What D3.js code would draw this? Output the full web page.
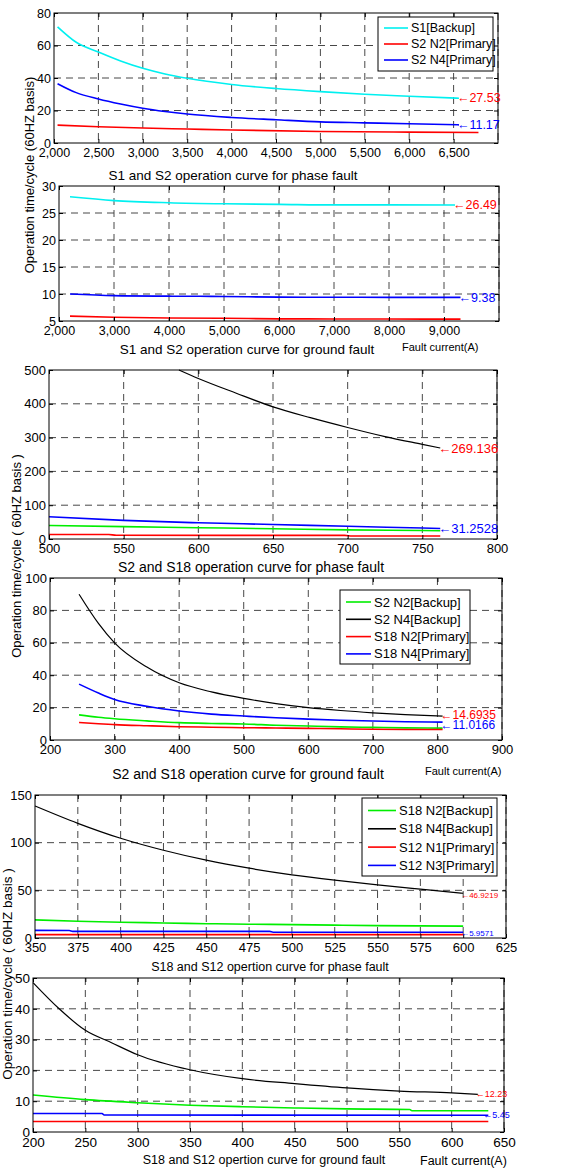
<!DOCTYPE html>
<html>
<head>
<meta charset="utf-8">
<script src="https://cdnjs.cloudflare.com/ajax/libs/d3/7.8.5/d3.min.js"></script>
<style>
body {margin: 0; background: #fff;}
svg {display: block; font-family: "Liberation Sans", Arial, sans-serif;}
.grid {stroke: #333; stroke-width: 0.9; stroke-dasharray: 7,5;}
</style>
</head>
<body>
<div id="vis"></div>
<script>
// ---- data ----

// panel 1: S1 and S2, phase fault
const P1_X_TICKS = [2000, 2500, 3000, 3500, 4000, 4500, 5000, 5500, 6000, 6500];
const P1_Y_TICKS = [0, 20, 40, 60, 80];
const P1_S1_X = [2040, 2250, 2500, 2750, 3000, 3250, 3500, 4000, 4500, 5000, 5500, 6000, 6560];
const P1_S1_Y = [71.5, 62, 56, 50.5, 46, 42.5, 39.8, 36, 33.5, 31.6, 30, 28.8, 27.53];
const P1_N4_X = [2040, 2250, 2500, 2750, 3000, 3250, 3500, 4000, 4500, 5000, 5500, 6000, 6560];
const P1_N4_Y = [36.5, 31, 27.1, 24, 21.4, 19.4, 17.8, 15.7, 14.3, 13, 12.4, 11.8, 11.17];
const P1_N2_X = [2040, 2500, 3000, 3500, 4000, 5000, 6000, 6780];
const P1_N2_Y = [11, 10, 9.2, 8.6, 8, 7.1, 6.7, 6.5];
const P1_LEGEND = ["S1[Backup]", "S2 N2[Primary]", "S2 N4[Primary]"];

// panel 2: S1 and S2, ground fault
const P2_X_TICKS = [2000, 3000, 4000, 5000, 6000, 7000, 8000, 9000];
const P2_Y_TICKS = [5, 10, 15, 20, 25, 30];
const P2_S1_X = [2200, 3000, 4000, 5000, 6000, 7000, 8000, 9200];
const P2_S1_Y = [28, 27.3, 26.9, 26.7, 26.6, 26.5, 26.5, 26.49];
const P2_N4_X = [2200, 3000, 4000, 5000, 6000, 7000, 8000, 9300];
const P2_N4_Y = [10, 9.7, 9.6, 9.55, 9.42, 9.4, 9.38, 9.38];
const P2_N2_X = [2200, 3000, 4000, 5000, 6000, 7000, 8000, 9300];
const P2_N2_Y = [5.9, 5.7, 5.55, 5.5, 5.4, 5.38, 5.36, 5.35];

// panel 3: S2 and S18, phase fault
const P3_X_TICKS = [500, 550, 600, 650, 700, 750, 800];
const P3_Y_TICKS = [0, 100, 200, 300, 400, 500];
const P3_N4B_X = [587, 600, 625, 650, 675, 700, 725, 750, 762];
const P3_N4B_Y = [500, 475, 432, 391, 359, 330, 303, 280, 269.136];
const P3_N4P_X = [500, 550, 600, 650, 700, 750, 762];
const P3_N4P_Y = [66, 55, 48, 43, 37.5, 32.5, 31.2528];
const P3_N2B_X = [500, 550, 600, 650, 700, 750, 762];
const P3_N2B_Y = [40, 36.5, 33.5, 30.5, 27, 25, 24.5];
const P3_N2P_X = [500, 540, 545, 698, 703, 762];
const P3_N2P_Y = [13.5, 13.2, 11, 10.6, 9, 8.8];

// panel 4: S2 and S18, ground fault
const P4_X_TICKS = [200, 300, 400, 500, 600, 700, 800, 900];
const P4_Y_TICKS = [0, 20, 40, 60, 80, 100];
const P4_X = [245, 275, 300, 350, 400, 450, 500, 550, 600, 650, 700, 750, 808];
const P4_S2_N2 = [15.5, 14, 13.1, 11.8, 10.7, 10.2, 9.9, 9.1, 8.6, 8.1, 7.8, 7.5, 7.3];
const P4_S2_N4 = [90, 72, 60, 45, 35.3, 29.7, 25.7, 22.5, 20, 18.2, 16.8, 15.7, 14.6935];
const P4_S18_N2 = [10.8, 10, 9.5, 8.8, 8.2, 7.9, 7.6, 7.4, 7.2, 6.9, 6.6, 6.5, 6.5];
const P4_S18_N4 = [34.5, 29, 25, 20.8, 17.9, 16, 14.8, 13.7, 12.9, 12.2, 11.7, 11.3, 11.0166];
const P4_LEGEND = ["S2 N2[Backup]", "S2 N4[Backup]", "S18 N2[Primary]", "S18 N4[Primary]"];

// panel 5: S18 and S12, phase fault
const P5_X_TICKS = [350, 375, 400, 425, 450, 475, 500, 525, 550, 575, 600, 625];
const P5_Y_TICKS = [0, 50, 100, 150];
const P5_X = [350, 375, 400, 425, 450, 475, 500, 525, 550, 575, 600];
const P5_S18_N2 = [19, 17.5, 16.5, 15.8, 15, 14.5, 14, 13.5, 13, 12.7, 12.5];
const P5_S18_N4 = [138.5, 120.3, 104.6, 92, 81.6, 73.2, 66.3, 60.7, 55.8, 51.3, 46.9219];
const P5_N1_X = [350, 600];
const P5_S12_N1 = [3.5, 3.5];
const P5_N3_X = [350, 370, 372, 487, 489, 600];
const P5_S12_N3 = [8, 7.8, 7, 6.9, 6, 5.9571];
const P5_LEGEND = ["S18 N2[Backup]", "S18 N4[Backup]", "S12 N1[Primary]", "S12 N3[Primary]"];

// panel 6: S18 and S12, ground fault
const P6_X_TICKS = [200, 250, 300, 350, 400, 450, 500, 550, 600, 650];
const P6_Y_TICKS = [0, 10, 20, 30, 40, 50];
const P6_N4_X = [200, 225, 250, 275, 300, 350, 400, 450, 500, 550, 600, 625];
const P6_S18_N4 = [48.5, 40, 33, 29, 25.1, 20.2, 17.3, 15.7, 14.3, 13.3, 12.7, 12.23];
const P6_N2_X = [200, 250, 300, 350, 400, 450, 500, 560, 562, 635];
const P6_S18_N2 = [12, 10.5, 9.5, 8.7, 8.2, 7.8, 7.5, 7.3, 6.9, 6.9];
const P6_N3_X = [200, 266, 268, 635];
const P6_S12_N3 = [6, 6, 5.5, 5.45];
const P6_N1_X = [200, 635];
const P6_S12_N1 = [3.4, 3.4];

// ---- drawing ----
const FRAME_WIDTH = 570;
const FRAME_HEIGHT = 1169;
const CYAN = "#00f0f0", RED = "#ff0000", BLUE = "#0000ff", GREEN = "#00ee00", BLACK = "#000";

const SVG = d3.select("#vis")
    .append("svg")
        .attr("width", FRAME_WIDTH)
        .attr("height", FRAME_HEIGHT);

const zip = (xs, ys) => xs.map((x, i) => [x, ys[i]]);

function drawPanel(cfg) {
    const X_SCALE = d3.scaleLinear().domain(cfg.xDomain).range([cfg.left, cfg.right]);
    const Y_SCALE = d3.scaleLinear().domain(cfg.yDomain).range([cfg.bottom, cfg.top]);
    const g = SVG.append("g");

    // dashed grid
    g.selectAll(".vgrid")
        .data(cfg.xTicks.filter(t => t > cfg.xDomain[0] && t < cfg.xDomain[1]).concat([cfg.xDomain[1]]))
        .enter()
        .append("line")
            .attr("class", "grid")
            .attr("x1", d => X_SCALE(d)).attr("x2", d => X_SCALE(d))
            .attr("y1", cfg.top).attr("y2", cfg.bottom);
    g.selectAll(".hgrid")
        .data(cfg.yTicks.filter(t => t > cfg.yDomain[0] && t < cfg.yDomain[1]))
        .enter()
        .append("line")
            .attr("class", "grid")
            .attr("x1", cfg.left).attr("x2", cfg.right)
            .attr("y1", d => Y_SCALE(d)).attr("y2", d => Y_SCALE(d));

    // curves
    const line = d3.line()
        .x(d => X_SCALE(d[0]))
        .y(d => Y_SCALE(d[1]))
        .curve(d3.curveMonotoneX);
    cfg.series.forEach(s => {
        g.append("path")
            .attr("d", line(zip(s.x, s.y)))
            .attr("fill", "none")
            .attr("stroke", s.color)
            .attr("stroke-width", s.color === BLACK ? 1.2 : 1.6);
    });

    // axes with inward ticks
    const fmt = cfg.xFormat || (d => d);
    g.append("g")
        .attr("transform", "translate(0," + cfg.bottom + ")")
        .call(d3.axisBottom(X_SCALE).tickValues(cfg.xTicks).tickFormat(fmt)
            .tickSizeInner(-4).tickSizeOuter(0).tickPadding(5))
        .attr("font-size", cfg.tickFont + "px")
        .attr("font-family", null);
    g.append("g")
        .attr("transform", "translate(" + cfg.left + ",0)")
        .call(d3.axisLeft(Y_SCALE).tickValues(cfg.yTicks)
            .tickSizeInner(-4).tickSizeOuter(0).tickPadding(3))
        .attr("font-size", cfg.tickFont + "px")
        .attr("font-family", null);
    g.append("g")
        .attr("transform", "translate(0," + cfg.top + ")")
        .call(d3.axisTop(X_SCALE).tickValues(cfg.xTicks).tickFormat("").tickSizeInner(-4).tickSizeOuter(0));
    g.append("g")
        .attr("transform", "translate(" + cfg.right + ",0)")
        .call(d3.axisRight(Y_SCALE).tickValues(cfg.yTicks).tickFormat("").tickSizeInner(-4).tickSizeOuter(0));
    g.selectAll(".domain").remove();
    g.selectAll(".tick text").attr("fill", "#000");

    g.append("rect")
        .attr("x", cfg.left).attr("y", cfg.top)
        .attr("width", cfg.right - cfg.left).attr("height", cfg.bottom - cfg.top)
        .attr("fill", "none").attr("stroke", "#000").attr("stroke-width", 1);

    // end value notes
    cfg.notes.forEach(n => {
        g.append("text")
            .attr("x", X_SCALE(n.x) + (n.dx || -2))
            .attr("y", Y_SCALE(n.y) + (n.dy || 0))
            .attr("dominant-baseline", "central")
            .attr("font-size", n.size + "px")
            .attr("fill", n.color)
            .text("\u2190" + n.label);
    });

    // legend
    if (cfg.legend) {
        const L = cfg.legend;
        g.append("rect")
            .attr("x", L.x).attr("y", L.y).attr("width", L.w).attr("height", L.h)
            .attr("fill", "#fff").attr("stroke", "#000").attr("stroke-width", 1);
        L.labels.forEach((lab, i) => {
            const yy = L.y + L.pad + i * L.step;
            g.append("line")
                .attr("x1", L.x + 6).attr("x2", L.x + 6 + L.line)
                .attr("y1", yy).attr("y2", yy)
                .attr("stroke", L.colors[i]).attr("stroke-width", 1.6);
            g.append("text")
                .attr("x", L.x + 9 + L.line).attr("y", yy)
                .attr("dominant-baseline", "central")
                .attr("font-size", L.font + "px")
                .text(lab);
        });
    }
}

// panel 1
drawPanel({
    left: 54, right: 498, top: 13, bottom: 143,
    xDomain: [2000, 7000], yDomain: [0, 80],
    xTicks: P1_X_TICKS, yTicks: P1_Y_TICKS, xFormat: d3.format(","), tickFont: 12.5,
    series: [
        {x: P1_S1_X, y: P1_S1_Y, color: CYAN},
        {x: P1_N2_X, y: P1_N2_Y, color: RED},
        {x: P1_N4_X, y: P1_N4_Y, color: BLUE}
    ],
    notes: [
        {x: 6560, y: 27.53, label: "27.53", color: RED, size: 12.5},
        {x: 6560, y: 11.17, label: "11.17", color: BLUE, size: 12.5}
    ],
    legend: {x: 378, y: 17, w: 115, h: 54, pad: 11, step: 16, line: 24, font: 12.5,
             labels: P1_LEGEND, colors: [CYAN, RED, BLUE]}
});

// panel 2
drawPanel({
    left: 59, right: 499, top: 186, bottom: 321,
    xDomain: [2000, 10000], yDomain: [5, 30],
    xTicks: P2_X_TICKS, yTicks: P2_Y_TICKS, xFormat: d3.format(","), tickFont: 12.5,
    series: [
        {x: P2_S1_X, y: P2_S1_Y, color: CYAN},
        {x: P2_N4_X, y: P2_N4_Y, color: BLUE},
        {x: P2_N2_X, y: P2_N2_Y, color: RED}
    ],
    notes: [
        {x: 9200, y: 26.49, label: "26.49", color: RED, size: 12.5},
        {x: 9300, y: 9.38, label: "9.38", color: BLUE, size: 12.5, dy: 1}
    ]
});

// panel 3
drawPanel({
    left: 49, right: 497, top: 370, bottom: 539,
    xDomain: [500, 800], yDomain: [0, 500],
    xTicks: P3_X_TICKS, yTicks: P3_Y_TICKS, tickFont: 13,
    series: [
        {x: P3_N4B_X, y: P3_N4B_Y, color: BLACK},
        {x: P3_N4P_X, y: P3_N4P_Y, color: BLUE},
        {x: P3_N2B_X, y: P3_N2B_Y, color: GREEN},
        {x: P3_N2P_X, y: P3_N2P_Y, color: RED}
    ],
    notes: [
        {x: 762, y: 269.136, label: "269.136", color: RED, size: 13},
        {x: 762, y: 31.2528, label: "31.2528", color: BLUE, size: 13}
    ]
});

// panel 4
drawPanel({
    left: 50, right: 502, top: 578, bottom: 740,
    xDomain: [200, 900], yDomain: [0, 100],
    xTicks: P4_X_TICKS, yTicks: P4_Y_TICKS, tickFont: 13,
    series: [
        {x: P4_X, y: P4_S2_N2, color: GREEN},
        {x: P4_X, y: P4_S2_N4, color: BLACK},
        {x: P4_X, y: P4_S18_N2, color: RED},
        {x: P4_X, y: P4_S18_N4, color: BLUE}
    ],
    notes: [
        {x: 808, y: 14.6935, label: "14.6935", color: RED, size: 12, dy: -1.5},
        {x: 808, y: 11.0166, label: "11.0166", color: BLUE, size: 12, dy: 3}
    ],
    legend: {x: 340, y: 590, w: 130, h: 74, pad: 12, step: 17.3, line: 25, font: 13,
             labels: P4_LEGEND, colors: [GREEN, BLACK, RED, BLUE]}
});

// panel 5
drawPanel({
    left: 35, right: 506, top: 795, bottom: 938,
    xDomain: [350, 625], yDomain: [0, 150],
    xTicks: P5_X_TICKS, yTicks: P5_Y_TICKS, tickFont: 13,
    series: [
        {x: P5_X, y: P5_S18_N2, color: GREEN},
        {x: P5_X, y: P5_S18_N4, color: BLACK},
        {x: P5_N1_X, y: P5_S12_N1, color: RED},
        {x: P5_N3_X, y: P5_S12_N3, color: BLUE}
    ],
    notes: [
        {x: 600, y: 46.9219, label: "46.9219", color: RED, size: 8, dy: 2},
        {x: 600, y: 5.9571, label: "5.9571", color: BLUE, size: 8, dy: 1}
    ],
    legend: {x: 362, y: 798, w: 135, h: 78, pad: 12.5, step: 18.3, line: 28, font: 13,
             labels: P5_LEGEND, colors: [GREEN, BLACK, RED, BLUE]}
});

// panel 6
drawPanel({
    left: 33, right: 504, top: 978, bottom: 1132,
    xDomain: [200, 650], yDomain: [0, 50],
    xTicks: P6_X_TICKS, yTicks: P6_Y_TICKS, tickFont: 13.5,
    series: [
        {x: P6_N4_X, y: P6_S18_N4, color: BLACK},
        {x: P6_N2_X, y: P6_S18_N2, color: GREEN},
        {x: P6_N3_X, y: P6_S12_N3, color: BLUE},
        {x: P6_N1_X, y: P6_S12_N1, color: RED}
    ],
    notes: [
        {x: 625, y: 12.23, label: "12.23", color: RED, size: 9},
        {x: 635, y: 5.45, label: "5.45", color: BLUE, size: 9, dx: -5}
    ]
});

// titles and axis labels
const TITLES = [
    {t: "S1 and S2 operation curve for phase fault", x: 233, y: 180, s: 13.5},
    {t: "S1 and S2 operation curve for ground fault", x: 247, y: 354, s: 13.5},
    {t: "S2 and S18 operation curve for phase fault", x: 251, y: 572, s: 14},
    {t: "S2 and S18 operation curve for ground fault", x: 248, y: 779, s: 14},
    {t: "S18 and S12 opertion curve for phase fault", x: 270, y: 971, s: 12.5},
    {t: "S18 and S12 opertion curve for ground fault", x: 264, y: 1164, s: 12.5}
];
TITLES.forEach(d => {
    SVG.append("text")
        .attr("x", d.x).attr("y", d.y)
        .attr("text-anchor", "middle")
        .attr("font-size", d.s + "px")
        .text(d.t);
});

const CURRENT_LABELS = [
    {x: 402, y: 351, s: 11},
    {x: 425, y: 775, s: 11},
    {x: 420, y: 1165, s: 12.5}
];
CURRENT_LABELS.forEach(d => {
    SVG.append("text")
        .attr("x", d.x).attr("y", d.y)
        .attr("font-size", d.s + "px")
        .text("Fault current(A)");
});

const Y_LABELS = [
    {t: "Operation time/cycle (60HZ basis)", x: 34, y: 175, s: 13},
    {t: "Operation time/cycle ( 60HZ basis )", x: 21, y: 556, s: 13},
    {t: "Operation time/cycle ( 60HZ basis )", x: 12, y: 974, s: 13.5}
];
Y_LABELS.forEach(d => {
    SVG.append("text")
        .attr("transform", "translate(" + d.x + "," + d.y + ") rotate(-90)")
        .attr("text-anchor", "middle")
        .attr("font-size", d.s + "px")
        .text(d.t);
});
</script>
</body>
</html>
